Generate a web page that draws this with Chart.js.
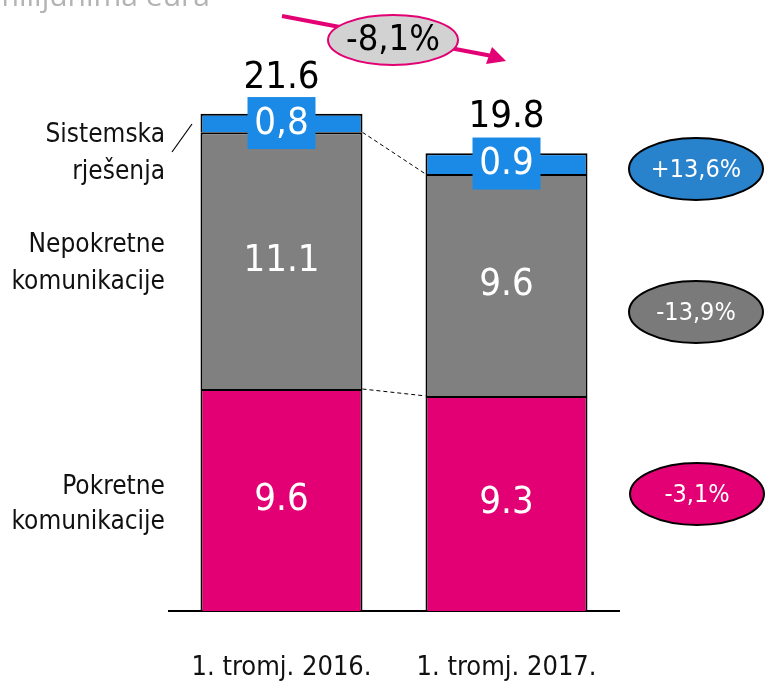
<!DOCTYPE html>
<html>
<head>
<meta charset="utf-8">
<script src="https://cdn.jsdelivr.net/npm/chart.js@4.4.1/dist/chart.umd.min.js"></script>
<style>
  html, body { margin: 0; padding: 0; background: #fff; }
  #wrap { width: 765px; height: 690px; }
</style>
</head>
<body>
<div id="wrap"><canvas id="revenue"></canvas></div>
<script>
const periods = ['1. tromj. 2016.', '1. tromj. 2017.'];
const mobile = [9.6, 9.3];
const fixed = [11.1, 9.6];
const system = [0.8, 0.9];
const mobileLabels = ['9.6', '9.3'];
const fixedLabels = ['11.1', '9.6'];
const systemLabels = ['0,8', '0.9'];
const totals = ['21.6', '19.8'];
const seriesNames = [['Pokretne', 'komunikacije'], ['Nepokretne', 'komunikacije'], ['Sistemska', 'rješenja']];
const changes = ['-3,1%', '-13,9%', '+13,6%'];
const totalChange = '-8,1%';

const MAGENTA = '#e20074';
const GREY = '#808080';
const BLUE = '#1a8ae6';
const FONT = "'Liberation Sans Narrow', 'DejaVu Sans Condensed', sans-serif";

function ellipse(ctx, cx, cy, rx, ry, fill, stroke, lw) {
    ctx.beginPath();
    ctx.ellipse(cx, cy, rx, ry, 0, 0, Math.PI * 2);
    ctx.fillStyle = fill;
    ctx.fill();
    ctx.lineWidth = lw;
    ctx.strokeStyle = stroke;
    ctx.stroke();
}

const annotations = {
    id: 'annotations',
    afterDatasetsDraw(chart) {
        const {ctx} = chart;
        const pink = chart.getDatasetMeta(0).data;
        const grey = chart.getDatasetMeta(1).data;
        const blue = chart.getDatasetMeta(2).data;
        ctx.save();

        // dashed connectors between the bars
        ctx.setLineDash([4, 3]);
        ctx.lineWidth = 1;
        ctx.strokeStyle = '#000';
        [pink, grey].forEach(els => {
            ctx.beginPath();
            ctx.moveTo(els[0].x + els[0].width / 2, els[0].y);
            ctx.lineTo(els[1].x - els[1].width / 2, els[1].y);
            ctx.stroke();
        });
        ctx.setLineDash([]);

        ctx.textAlign = 'center';
        ctx.textBaseline = 'middle';
        ctx.fillStyle = '#fff';
        ctx.font = '38px ' + FONT;
        pink.forEach((el, i) => {
            ctx.fillText(mobileLabels[i], el.x, (el.y + el.base) / 2);
        });
        grey.forEach((el, i) => {
            ctx.fillText(fixedLabels[i], el.x, (el.y + el.base) / 2);
        });
        blue.forEach((el, i) => {
            const cy = (el.y + el.base) / 2;
            ctx.fillStyle = BLUE;
            ctx.fillRect(el.x - 34, cy - 26, 68, 52);
            ctx.fillStyle = '#fff';
            ctx.fillText(systemLabels[i], el.x, cy + 1);
            ctx.fillStyle = '#000';
            ctx.fillText(totals[i], el.x, el.y - 36);
        });

        // series names on the left
        ctx.textAlign = 'right';
        ctx.fillStyle = '#111';
        ctx.font = '26px ' + FONT;
        const nameY = [[487, 522], [245, 282], [135, 172]];
        seriesNames.forEach((lines, s) => {
            lines.forEach((t, j) => ctx.fillText(t, 165, nameY[s][j]));
        });
        ctx.lineWidth = 1.2;
        ctx.strokeStyle = '#000';
        ctx.beginPath();
        ctx.moveTo(172, 152);
        ctx.lineTo(192, 124);
        ctx.stroke();

        // change ellipses on the right
        ctx.textAlign = 'center';
        ctx.font = '25px ' + FONT;
        const bubbles = [[697, 494, MAGENTA], [696, 312, '#7a7a7a'], [696, 169, '#2882cc']];
        bubbles.forEach((b, s) => {
            ellipse(ctx, b[0], b[1], 67, 31, b[2], '#000', 2);
            ctx.fillStyle = '#fff';
            ctx.fillText(changes[s], b[0], b[1] + 1);
        });

        // total change arrow
        ctx.strokeStyle = MAGENTA;
        ctx.fillStyle = MAGENTA;
        ctx.lineWidth = 4;
        ctx.beginPath();
        ctx.moveTo(282, 16);
        ctx.lineTo(492, 56);
        ctx.stroke();
        ctx.beginPath();
        ctx.moveTo(506, 61);
        ctx.lineTo(486, 64);
        ctx.lineTo(492, 47);
        ctx.closePath();
        ctx.fill();
        ellipse(ctx, 393, 40, 65, 25, '#d2d2d2', MAGENTA, 2);
        ctx.fillStyle = '#000';
        ctx.font = '36px ' + FONT;
        ctx.fillText(totalChange, 393, 41);

        // clipped unit title
        ctx.textAlign = 'right';
        ctx.textBaseline = 'alphabetic';
        ctx.fillStyle = '#b4b4b4';
        ctx.font = "30px 'Open Sans', sans-serif";
        ctx.fillText('u milijunima eura', 210, 6);

        ctx.restore();
    }
};

const barStyle = {
    borderColor: '#000',
    borderWidth: 2,
    inflateAmount: 0,
    barPercentage: 0.72,
    categoryPercentage: 1
};

new Chart(document.getElementById('revenue'), {
    type: 'bar',
    data: {
        labels: periods,
        datasets: [
            { label: 'Pokretne komunikacije', data: mobile, backgroundColor: MAGENTA, ...barStyle },
            { label: 'Nepokretne komunikacije', data: fixed, backgroundColor: GREY, ...barStyle },
            { label: 'Sistemska rješenja', data: system, backgroundColor: BLUE, ...barStyle }
        ]
    },
    options: {
        responsive: true,
        maintainAspectRatio: false,
        animation: false,
        events: [],
        layout: {
            padding: { top: 56, left: 169, right: 146, bottom: 0 }
        },
        plugins: {
            legend: { display: false },
            tooltip: { enabled: false }
        },
        scales: {
            x: {
                stacked: true,
                grid: { display: false, drawTicks: false },
                border: { display: true, color: '#000', width: 2 },
                ticks: {
                    color: '#111',
                    padding: 43,
                    font: { family: FONT, size: 27, lineHeight: 1 }
                },
                afterFit(scale) { scale.height = 79; }
            },
            y: {
                stacked: true,
                display: false,
                min: 0,
                max: 24
            }
        }
    },
    plugins: [annotations]
});
</script>
</body>
</html>
